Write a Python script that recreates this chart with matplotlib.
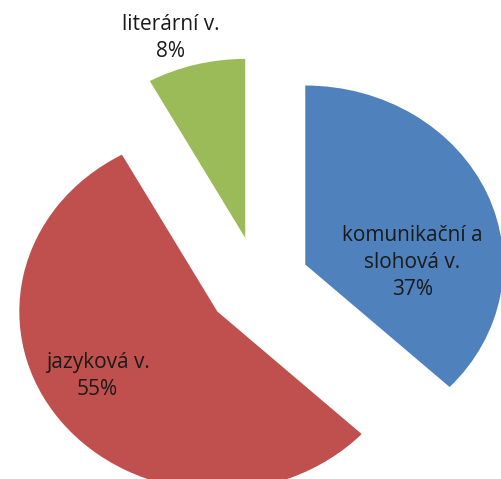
import matplotlib.pyplot as plt

labels = ["komunikační a\nslohová v.", "jazyková v.", "literární v."]
shares = [37, 55, 8]
colors = ["#4F81BD", "#C0504D", "#9BBB59"]

# where Excel put each label (data coords)
label_pos = [(0.78, 0.115), (-0.81, -0.52), (-0.44, 1.37)]

fig = plt.figure(figsize=(5.02, 4.79), dpi=100)
ax = fig.add_axes([0, 0, 1, 1])

ax.pie(shares, colors=colors, startangle=90, counterclock=False,
       explode=[0.26] * len(shares), radius=1.0,
       wedgeprops=dict(linewidth=0))

ax.set_aspect("auto")
ax.set_xlim(-1.303, 1.232)
ax.set_ylim(-1.095, 1.581)
ax.axis("off")

for lab, val, (x, y) in zip(labels, shares, label_pos):
    ax.text(x, y, f"{lab}\n{val}%", ha="center", va="center",
            fontsize=15, family="Open Sans", color="#1a1a1a", linespacing=1.4)

fig.savefig("out.png", dpi=100)
